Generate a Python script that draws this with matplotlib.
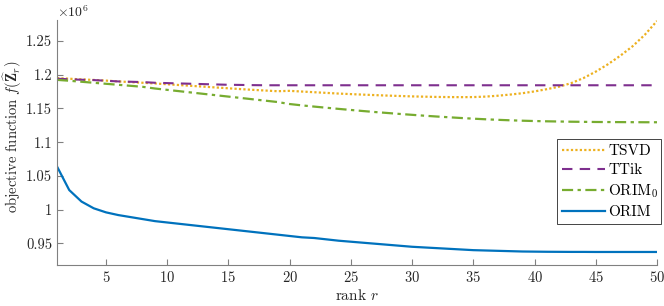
import matplotlib
matplotlib.use("Agg")
import matplotlib.pyplot as plt
import numpy as np

plt.rcParams['font.family'] = 'serif'
plt.rcParams['font.serif'] = ['cmr10', 'DejaVu Serif']
plt.rcParams['mathtext.fontset'] = 'cm'
plt.rcParams['axes.formatter.use_mathtext'] = True

ranks = list(range(1, 51))

tsvd = [1.195, 1.194, 1.193, 1.1922, 1.1912, 1.190, 1.189, 1.188, 1.187, 1.1858,
        1.1846, 1.1834, 1.1822, 1.181, 1.1798, 1.1786, 1.1775, 1.1765, 1.1755, 1.176,
        1.175, 1.174, 1.173, 1.172, 1.1712, 1.1704, 1.1697, 1.169, 1.1684, 1.1678,
        1.1674, 1.167, 1.1668, 1.1667, 1.1668, 1.1675, 1.1688, 1.1705, 1.1725, 1.1752,
        1.1785, 1.1822, 1.1875, 1.195, 1.2045, 1.2155, 1.228, 1.242, 1.259, 1.2796]

ttik = [1.194, 1.1932, 1.1925, 1.192, 1.191, 1.190, 1.1895, 1.189, 1.188, 1.1875,
        1.187, 1.1865, 1.186, 1.1855, 1.185, 1.1848, 1.1845] + [1.1843] * 33

orim0 = [1.1923, 1.191, 1.1895, 1.188, 1.1865, 1.185, 1.1835, 1.182, 1.1795, 1.1775,
         1.1755, 1.1735, 1.1715, 1.1695, 1.1675, 1.1655, 1.1635, 1.1615, 1.1595, 1.1565,
         1.1545, 1.1527, 1.151, 1.1493, 1.1477, 1.1461, 1.1446, 1.1432, 1.1418, 1.1405,
         1.1392, 1.138, 1.1369, 1.1358, 1.1348, 1.1339, 1.1331, 1.1324, 1.1318, 1.1313,
         1.1309, 1.1306, 1.1303, 1.1301, 1.1299, 1.1298, 1.1297, 1.1296, 1.1295, 1.1295]

orim = [1.064, 1.029, 1.012, 1.002, 0.996, 0.992, 0.989, 0.986, 0.983, 0.981,
        0.979, 0.977, 0.975, 0.973, 0.971, 0.969, 0.967, 0.965, 0.963, 0.961,
        0.959, 0.958, 0.956, 0.954, 0.9525, 0.951, 0.9495, 0.948, 0.9465, 0.945,
        0.944, 0.943, 0.942, 0.941, 0.940, 0.9395, 0.939, 0.9385, 0.938, 0.9378,
        0.9376, 0.9375, 0.9374, 0.9374, 0.9373, 0.9373, 0.9373, 0.9373, 0.9373, 0.9373]

xticks = [5, 10, 15, 20, 25, 30, 35, 40, 45, 50]
yticks = [0.95, 1.0, 1.05, 1.1, 1.15, 1.2, 1.25]
ytick_labels = ['0.95', '1', '1.05', '1.1', '1.15', '1.2', '1.25']

fig = plt.figure(figsize=(6.64, 3.06), dpi=100)
W, H = 664, 306
ax = fig.add_axes([57 / W, (H - 265) / H, (657 - 57) / W, (265 - 20) / H])

ax.plot(ranks, tsvd, color='#EDB120', linestyle=(0, (1, 1)), linewidth=1.6, label=r'TSVD')
ax.plot(ranks, ttik, color='#7E2F8E', linestyle=(0, (5, 3.5)), linewidth=1.5, label=r'TTik')
ax.plot(ranks, orim0, color='#77AC30', linestyle=(0, (5, 2, 1.5, 2)), linewidth=1.6, label=r'ORIM$_0$')
ax.plot(ranks, orim, color='#0072BD', linestyle='-', linewidth=1.6, label=r'ORIM')

ax.set_xlim(1, 50)
ax.set_ylim(0.918, 1.281)
ax.set_xticks(xticks)
ax.set_yticks(yticks)
ax.set_yticklabels(ytick_labels)

gray = '#262626'
for s in ['top', 'right']:
    ax.spines[s].set_visible(False)
for s in ['left', 'bottom']:
    ax.spines[s].set_color('#808080')
    ax.spines[s].set_linewidth(0.8)
ax.tick_params(direction='in', length=4, width=0.8, colors='#808080', labelcolor=gray, labelsize=10.5)

ax.set_xlabel(r'rank $r$', fontsize=11, color=gray, labelpad=2)
ax.set_ylabel(r'objective function $f(\widehat{\mathbf{Z}}_r)$', fontsize=10.5, color=gray, va='center')
ax.yaxis.set_label_coords((13 - 57) / 600, (265 - 137) / 245)
fig.text(57 / W, 1 - 12 / H, r'$\times10^6$', fontsize=10, color=gray, ha='left', va='center')

leg = ax.legend(loc='upper left', bbox_to_anchor=(557 / W, 1 - 235 / H, (661 - 557) / W, (235 - 139) / H),
                bbox_transform=fig.transFigure, mode='expand', fontsize=11, frameon=True, fancybox=False,
                framealpha=1, edgecolor='#262626', handlelength=2.8, handletextpad=0.2, borderpad=0.35,
                labelspacing=0.35, borderaxespad=0)
leg.get_frame().set_linewidth(0.6)

fig.savefig('out.png', dpi=100)
